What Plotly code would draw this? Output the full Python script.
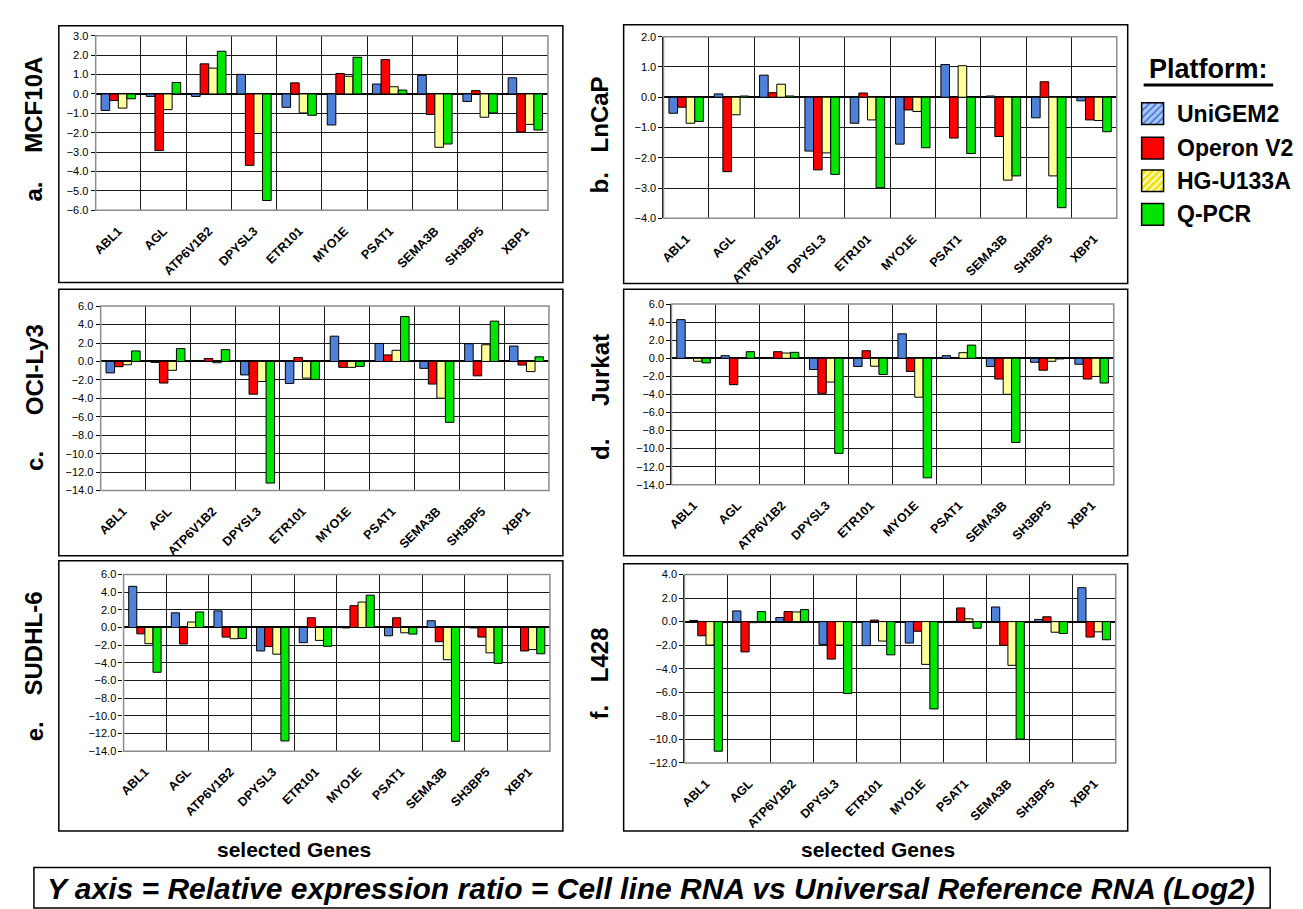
import plotly.graph_objects as go

genes = ["ABL1", "AGL", "ATP6V1B2", "DPYSL3", "ETR101", "MYO1E", "PSAT1", "SEMA3B", "SH3BP5", "XBP1"]
platforms = ["UniGEM2", "Operon V2", "HG-U133A", "Q-PCR"]
colors = ["#4F81D9", "#FF0000", "#FFFF99", "#00E600"]

# a. MCF10A
mcf10a_unigem2 = [-0.85, -0.13, -0.13, 1.01, -0.69, -1.60, 0.51, 0.96, -0.39, 0.83]
mcf10a_operon = [-0.34, -2.92, 1.55, -3.68, 0.57, 1.05, 1.77, -1.06, 0.17, -1.96]
mcf10a_hgu133a = [-0.73, -0.81, 1.33, -2.04, -0.98, 0.91, 0.37, -2.75, -1.20, -1.57]
mcf10a_qpcr = [-0.25, 0.59, 2.20, -5.49, -1.10, 1.89, 0.20, -2.58, -0.98, -1.86]
# b. LnCaP
lncap_unigem2 = [-0.53, 0.11, 0.73, -1.78, -0.86, -1.55, 1.08, 0.04, -0.68, -0.12]
lncap_operon = [-0.33, -2.46, 0.15, -2.40, 0.14, -0.42, -1.35, -1.30, 0.51, -0.75]
lncap_hgu133a = [-0.86, -0.58, 0.43, -1.84, -0.75, -0.47, 1.04, -2.74, -2.60, -0.77]
lncap_qpcr = [-0.80, 0.04, 0.04, -2.55, -2.99, -1.67, -1.86, -2.60, -3.65, -1.14]
# c. OCI-Ly3
ocily3_unigem2 = [-1.24, -0.10, 0.10, -1.46, -2.38, 2.74, 1.95, -0.75, 1.92, 1.67]
ocily3_operon = [-0.57, -2.34, 0.32, -3.55, 0.43, -0.64, 0.71, -2.45, -1.56, -0.39]
ocily3_hgu133a = [-0.36, -0.96, -0.14, -2.17, -1.81, -0.64, 1.21, -3.98, 1.81, -1.10]
ocily3_qpcr = [1.14, 1.39, 1.28, -13.18, -1.95, -0.53, 4.87, -6.60, 4.37, 0.50]
# d. Jurkat
jurkat_unigem2 = [4.28, 0.29, 0.07, -1.24, -0.91, 2.71, 0.29, -0.91, -0.44, -0.66]
jurkat_operon = [0.03, -2.92, 0.73, -3.88, 0.84, -1.46, 0.07, -2.30, -1.32, -2.30]
jurkat_hgu133a = [-0.33, 0.07, 0.58, -2.63, -0.88, -4.31, 0.62, -3.99, -0.33, -2.01]
jurkat_qpcr = [-0.51, 0.73, 0.66, -10.53, -1.79, -13.24, 1.46, -9.32, -0.07, -2.74]
# e. SUDHL-6
sudhl6_unigem2 = [4.66, 1.66, 1.88, -2.66, -1.72, -0.05, -0.94, 0.77, -0.05, 0.00]
sudhl6_operon = [-0.72, -1.87, -1.09, -2.16, 1.10, 2.47, 1.10, -1.61, -1.09, -2.66]
sudhl6_hgu133a = [-1.83, 0.62, -1.27, -3.02, -1.46, 2.88, -0.60, -3.65, -2.87, -2.50]
sudhl6_qpcr = [-5.07, 1.76, -1.24, -12.85, -2.13, 3.66, -0.75, -12.89, -4.06, -2.98]
# f. L428
l428_unigem2 = [0.10, 0.91, 0.35, -1.93, -2.04, -1.82, 0.02, 1.24, 0.19, 2.88]
l428_operon = [-1.20, -2.57, 0.85, -3.18, 0.13, -0.82, 1.16, -2.01, 0.41, -1.31]
l428_hgu133a = [-1.99, -0.09, 0.82, -1.99, -1.65, -3.63, 0.24, -3.71, -0.90, -0.87]
l428_qpcr = [-11.00, 0.85, 1.02, -6.10, -2.82, -7.41, -0.56, -9.97, -1.01, -1.54]

W, H = 1303, 909
FONT = "Liberation Sans, Arial, sans-serif"


def px(x):
    return x / W


def py(y):
    return 1 - y / H


panels = [
    dict(letter="a.", name="MCF10A", series=[mcf10a_unigem2, mcf10a_operon, mcf10a_hgu133a, mcf10a_qpcr],
         yr=[-6, 3], dt=1, plot=(83, 22, 537, 199), box=(46, 12, 552, 272), lab_x=21, lab_name_y=92, lab_let_y=180),
    dict(letter="b.", name="LnCaP", series=[lncap_unigem2, lncap_operon, lncap_hgu133a, lncap_qpcr],
         yr=[-4, 2], dt=1, plot=(653, 23, 1108, 207), box=(613, 11, 1119, 273), lab_x=589, lab_name_y=102, lab_let_y=171),
    dict(letter="c.", name="OCI-Ly3", series=[ocily3_unigem2, ocily3_operon, ocily3_hgu133a, ocily3_qpcr],
         yr=[-14, 6], dt=2, plot=(88, 296, 538, 483), box=(46, 279, 552, 549), lab_x=21, lab_name_y=360, lab_let_y=453),
    dict(letter="d.", name="Jurkat", series=[jurkat_unigem2, jurkat_operon, jurkat_hgu133a, jurkat_qpcr],
         yr=[-14, 6], dt=2, plot=(661, 294, 1105, 477), box=(613, 279, 1119, 549), lab_x=589, lab_name_y=361, lab_let_y=441),
    dict(letter="e.", name="SUDHL-6", series=[sudhl6_unigem2, sudhl6_operon, sudhl6_hgu133a, sudhl6_qpcr],
         yr=[-14, 6], dt=2, plot=(111, 568, 539, 747), box=(46, 554, 552, 828), lab_x=21, lab_name_y=638, lab_let_y=727),
    dict(letter="f.", name="L428", series=[l428_unigem2, l428_operon, l428_hgu133a, l428_qpcr],
         yr=[-12, 4], dt=2, plot=(674, 568, 1107, 759), box=(613, 557, 1119, 828), lab_x=589, lab_name_y=649, lab_let_y=707),
]

fig = go.Figure()
shapes = []
annotations = []
layout_axes = {}

for i, p in enumerate(panels, start=1):
    xa = "x" if i == 1 else f"x{i}"
    ya = "y" if i == 1 else f"y{i}"
    for s, (plat, col) in enumerate(zip(platforms, colors)):
        fig.add_trace(go.Bar(
            x=genes, y=p["series"][s], name=plat, marker=dict(color=col, line=dict(color="black", width=1)),
            xaxis=xa, yaxis=ya, showlegend=False, offsetgroup=str(s)))
    x0, y0, x1, y1 = p["plot"]
    xkey = "xaxis" if i == 1 else f"xaxis{i}"
    ykey = "yaxis" if i == 1 else f"yaxis{i}"
    layout_axes[xkey] = dict(
        domain=[px(x0), px(x1)], anchor=ya, type="category", categoryorder="array", categoryarray=genes,
        tickson="boundaries", showgrid=True, gridcolor="#1a1a1a", gridwidth=1, ticks="",
        tickangle=-45, tickfont=dict(family=FONT, size=12.5, color="black", weight="bold"),
        showline=False, ticklabelstandoff=10)
    layout_axes[ykey] = dict(
        domain=[py(y1), py(y0)], anchor=xa, range=p["yr"], dtick=p["dt"], tick0=0, tickformat=".1f",
        showgrid=True, gridcolor="#1a1a1a", gridwidth=1, zeroline=True, zerolinecolor="#000000", zerolinewidth=1.5,
        ticks="outside", ticklen=4, tickcolor="black", tickfont=dict(family=FONT, size=11, color="black"),
        showline=True, linecolor="#000000", linewidth=1.2, mirror=False)
    # plot-area frame (grey)
    shapes.append(dict(type="rect", xref=f"{xa} domain", yref=f"{ya} domain", x0=0, x1=1, y0=0, y1=1,
                       line=dict(color="#8c8c8c", width=1.5), fillcolor="rgba(0,0,0,0)", layer="above"))
    bx0, by0, bx1, by1 = p["box"]
    shapes.append(dict(type="rect", xref="paper", yref="paper", x0=px(bx0), x1=px(bx1), y0=py(by1), y1=py(by0),
                       line=dict(color="black", width=1.5), fillcolor="rgba(0,0,0,0)", layer="below"))
    annotations.append(dict(text=f"<b>{p['name']}</b>", x=px(p["lab_x"]), y=py(p["lab_name_y"]), xref="paper", yref="paper",
                            textangle=-90, showarrow=False, xanchor="center", yanchor="middle",
                            font=dict(family=FONT, size=24, color="black")))
    annotations.append(dict(text=f"<b>{p['letter']}</b>", x=px(p["lab_x"]), y=py(p["lab_let_y"]), xref="paper", yref="paper",
                            textangle=-90, showarrow=False, xanchor="center", yanchor="middle",
                            font=dict(family=FONT, size=24, color="black")))

# x-axis titles
for cx in (282, 868):
    annotations.append(dict(text="<b>selected Genes</b>", x=px(cx), y=py(847), xref="paper", yref="paper",
                            showarrow=False, xanchor="center", yanchor="middle",
                            font=dict(family=FONT, size=21, color="black")))

# bottom caption box
shapes.append(dict(type="rect", xref="paper", yref="paper", x0=px(21), x1=px(1262), y0=py(906), y1=py(865),
                   line=dict(color="black", width=1.5), fillcolor="white", layer="below"))
annotations.append(dict(text="<b><i>Y axis = Relative expression ratio = Cell line RNA vs Universal Reference RNA (Log2)</i></b>",
                        x=px(640), y=py(886), xref="paper", yref="paper", showarrow=False, xanchor="center", yanchor="middle",
                        font=dict(family=FONT, size=30, color="black")))

# legend
annotations.append(dict(text="<b>Platform:</b>", x=px(1200), y=py(56), xref="paper", yref="paper", showarrow=False,
                        xanchor="center", yanchor="middle", font=dict(family=FONT, size=27, color="black")))
shapes.append(dict(type="line", xref="paper", yref="paper", x0=px(1135), x1=px(1265), y0=py(72), y1=py(72),
                   line=dict(color="black", width=3)))
icon_y = [101, 136, 169, 203]
icon_fill = ["#4F81D9", "#FF0000", "#FFFFD0", "#00E600"]
hatch = [("#A9C6F7", 1), None, ("#F2E21C", -1), None]
for k, plat in enumerate(platforms):
    cy = icon_y[k]
    ix0, ix1, iy0, iy1 = 1133, 1155, cy - 11, cy + 11
    shapes.append(dict(type="rect", xref="paper", yref="paper", x0=px(ix0), x1=px(ix1), y0=py(iy1), y1=py(iy0),
                       fillcolor=icon_fill[k], line=dict(width=0)))
    if hatch[k] is not None:
        hc, direction = hatch[k]
        size = ix1 - ix0
        for off in range(-size + 4, size, 7):
            pts = []
            for t in range(0, size + 1):
                xx = ix0 + t
                yy = (iy0 + off + t) if direction == 1 else (iy1 - off - t)
                if iy0 <= yy <= iy1:
                    pts.append((xx, yy))
            if len(pts) >= 2:
                (ax, ay), (bx, by) = pts[0], pts[-1]
                if direction == 1:
                    ay, by = iy1 - (ay - iy0), iy1 - (by - iy0)
                shapes.append(dict(type="line", xref="paper", yref="paper", x0=px(ax), x1=px(bx), y0=py(ay), y1=py(by),
                                   line=dict(color=hc, width=3)))
    shapes.append(dict(type="rect", xref="paper", yref="paper", x0=px(ix0), x1=px(ix1), y0=py(iy1), y1=py(iy0),
                       fillcolor="rgba(0,0,0,0)", line=dict(color="black", width=1.5)))
    annotations.append(dict(text=f"<b>{plat}</b>", x=px(1166), y=py(cy), xref="paper", yref="paper", showarrow=False,
                            xanchor="left", yanchor="middle", font=dict(family=FONT, size=23, color="black")))

fig.update_layout(
    width=W, height=H, autosize=False, margin=dict(l=0, r=0, t=0, b=0),
    paper_bgcolor="white", plot_bgcolor="white", barmode="group", bargap=0.24, bargroupgap=0,
    showlegend=False, shapes=shapes, annotations=annotations, font=dict(family=FONT), **layout_axes)

fig.write_html("out.html")
